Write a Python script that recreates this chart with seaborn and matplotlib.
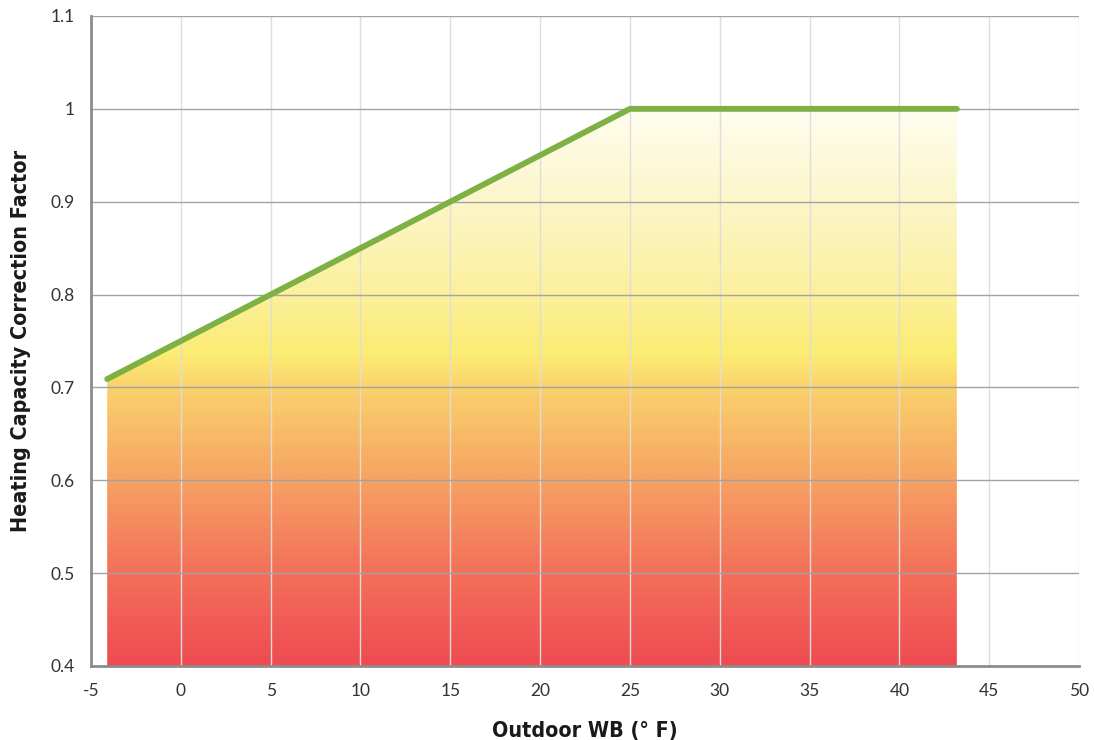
import numpy as np
import matplotlib
matplotlib.use("Agg")
import matplotlib.pyplot as plt
import seaborn as sns
import pandas as pd
from matplotlib.colors import LinearSegmentedColormap

# ========== DATA ==========
outdoor_wb = [-4.1, 25, 43.2]
correction = [0.709, 1.0, 1.0]

x_ticks = [-5, 0, 5, 10, 15, 20, 25, 30, 35, 40, 45, 50]
y_ticks = [0.4, 0.5, 0.6, 0.7, 0.8, 0.9, 1.0, 1.1]
y_tick_labels = ["0.4", "0.5", "0.6", "0.7", "0.8", "0.9", "1", "1.1"]

# gradient stops (y value, colour)
grad_levels = [0.40, 0.50, 0.60, 0.70, 0.735, 0.80, 0.90, 1.00]
grad_colors = ["#EF4A51", "#F3705A", "#F7A263", "#FAD26D", "#FCEC72",
               "#FBF09C", "#FCF6C9", "#FFFDEF"]

df = pd.DataFrame({"Outdoor WB": outdoor_wb, "Factor": correction})

# ========== STYLE ==========
sns.set_style("white")
plt.rcParams["font.family"] = ["Lato", "DejaVu Sans"]
plt.rcParams["axes.unicode_minus"] = False

fig = plt.figure(figsize=(10.94, 7.40), dpi=100)
ax = fig.add_axes([0.0832, 0.1, 0.9031, 0.8784])

# gradient fill under the curve
lo, hi = grad_levels[0], grad_levels[-1]
stops = [((v - lo) / (hi - lo), c) for v, c in zip(grad_levels, grad_colors)]
cmap = LinearSegmentedColormap.from_list("heat", stops)
grad = np.linspace(0, 1, 512).reshape(-1, 1)
img = ax.imshow(grad, cmap=cmap, origin="lower", aspect="auto",
                extent=[-5, 50, lo, hi], zorder=1)
poly = ax.fill_between(df["Outdoor WB"], df["Factor"], 0.4,
                       facecolor="none", edgecolor="none")
img.set_clip_path(poly.get_paths()[0], transform=ax.transData)

sns.lineplot(data=df, x="Outdoor WB", y="Factor", ax=ax, color="#7DB143",
             linewidth=4.2, solid_capstyle="round", zorder=4)

ax.set_xlim(-5, 50)
ax.set_ylim(0.4, 1.1)
ax.set_xticks(x_ticks)
ax.set_yticks(y_ticks)
ax.set_yticklabels(y_tick_labels)

# grid drawn over the fill
ax.set_axisbelow(False)
ax.yaxis.grid(True, color="#A3A3A3", linewidth=1, zorder=2)
ax.xaxis.grid(True, color="#DDDDDD", linewidth=1, zorder=2)

for side in ["top", "right"]:
    ax.spines[side].set_visible(False)
for side in ["left", "bottom"]:
    ax.spines[side].set_color("#8C8C8C")
    ax.spines[side].set_linewidth(2)
    ax.spines[side].set_zorder(5)

ax.tick_params(axis="both", direction="out", length=6, width=1.5,
               color="#8C8C8C", labelsize=12.5, labelcolor="#333333", pad=6)

label_font = dict(fontsize=15.4, fontweight="bold", family="DejaVu Sans",
                  fontstretch="condensed", color="#1A1A1A")
ax.set_xlabel("Outdoor WB (° F)", labelpad=16, **label_font)
ax.set_ylabel("Heating Capacity Correction Factor", labelpad=14, **label_font)

plt.savefig("out.png", dpi=100)
